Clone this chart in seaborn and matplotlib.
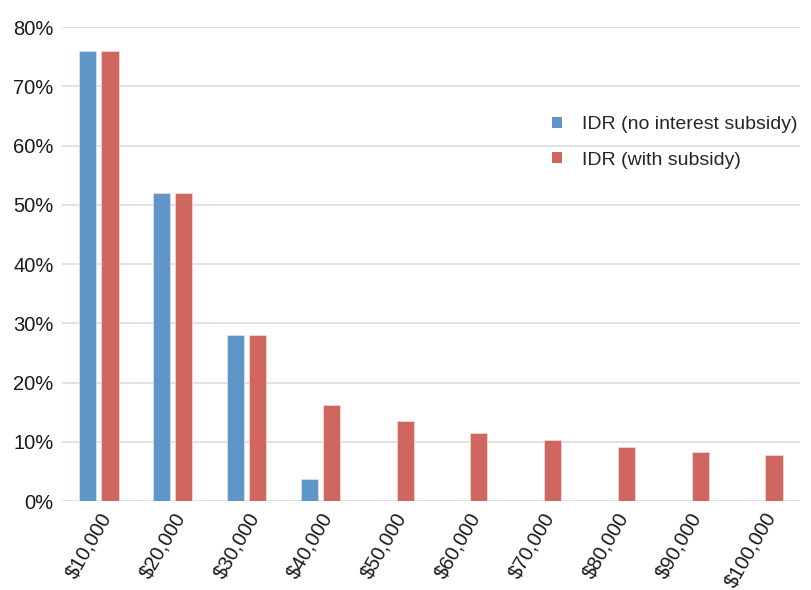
import matplotlib
matplotlib.use("Agg")
import matplotlib.pyplot as plt
import seaborn as sns
import pandas as pd
from matplotlib.patches import Patch
from matplotlib.ticker import FuncFormatter

# Debt levels and share of borrowers for each repayment plan
debt_labels = ["$10,000", "$20,000", "$30,000", "$40,000", "$50,000",
               "$60,000", "$70,000", "$80,000", "$90,000", "$100,000"]
idr_no_subsidy = [0.76, 0.52, 0.28, 0.038, 0, 0, 0, 0, 0, 0]
idr_with_subsidy = [0.76, 0.52, 0.28, 0.162, 0.135, 0.115, 0.103, 0.091, 0.083, 0.077]
series_names = ["IDR (no interest subsidy)", "IDR (with subsidy)"]
colors = ["#5f96c9", "#cf6660"]

df = pd.DataFrame({
    "debt": debt_labels * 2,
    "share": idr_no_subsidy + idr_with_subsidy,
    "plan": [series_names[0]] * len(debt_labels) + [series_names[1]] * len(debt_labels),
})

sns.set_theme(style="white")
plt.rcParams["font.family"] = ["Liberation Sans", "DejaVu Sans"]

fig = plt.figure(figsize=(8.12, 5.90), dpi=100)
ax = fig.add_axes([0.0764, 0.1508, 0.9086, 0.8032])

sns.barplot(data=df, x="debt", y="share", hue="plan", order=debt_labels,
            hue_order=series_names, palette=colors, width=0.6, gap=0.23,
            edgecolor="#f3d6d4", linewidth=0.6, saturation=1, ax=ax, legend=False)

ax.set_ylim(0, 0.8)
ax.set_xlim(-0.5, 9.5)
ax.set_yticks([i / 10 for i in range(9)])
ax.yaxis.set_major_formatter(FuncFormatter(lambda v, _: f"{v * 100:.0f}%"))
ax.grid(axis="y", color="#e2e2e2", linewidth=1.4)
ax.set_axisbelow(True)
for s in ax.spines.values():
    s.set_visible(False)
ax.set_xlabel("")
ax.set_ylabel("")
ax.tick_params(axis="y", labelsize=14.5, pad=6, length=0, colors="#1a1a1a")
ax.tick_params(axis="x", labelsize=14.5, pad=6, length=0, colors="#1a1a1a")
plt.setp(ax.get_xticklabels(), rotation=60, ha="right", rotation_mode="anchor")

handles = [Patch(facecolor=c, edgecolor="none") for c in colors]
ax.legend(handles, series_names, loc="upper left", bbox_to_anchor=(0.641, 0.849),
          frameon=False, fontsize=14, handlelength=0.5, handleheight=0.5,
          handletextpad=1.0, labelspacing=0.95)

fig.savefig("out.png", dpi=100)
